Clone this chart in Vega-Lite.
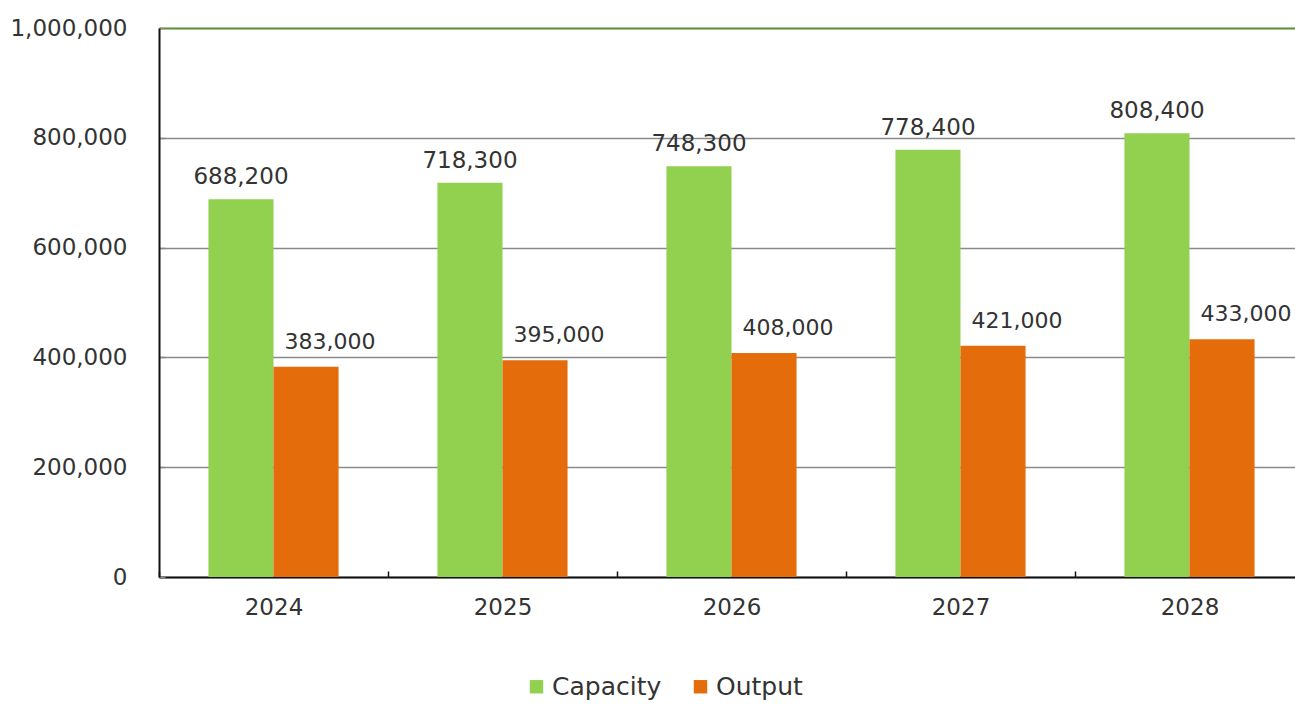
{
  "$schema": "https://vega.github.io/schema/vega-lite/v6.json",
  "autosize": {"type": "none"},
  "width": 1136,
  "height": 549,
  "padding": {"left": 159, "top": 28, "right": 0, "bottom": 127},
  "background": "white",
  "view": {"stroke": "transparent", "strokeWidth": 0, "fill": null},
  "config": {
    "view": {"stroke": "transparent", "strokeWidth": 0},
    "font": "DejaVu Sans"
  },
  "data": {
    "values": [
      {"year": "2024", "series": "Capacity", "value": 688200},
      {"year": "2024", "series": "Output", "value": 383000},
      {"year": "2025", "series": "Capacity", "value": 718300},
      {"year": "2025", "series": "Output", "value": 395000},
      {"year": "2026", "series": "Capacity", "value": 748300},
      {"year": "2026", "series": "Output", "value": 408000},
      {"year": "2027", "series": "Capacity", "value": 778400},
      {"year": "2027", "series": "Output", "value": 421000},
      {"year": "2028", "series": "Capacity", "value": 808400},
      {"year": "2028", "series": "Output", "value": 433000}
    ]
  },
  "encoding": {
    "x": {
      "field": "year", "type": "nominal", "title": null,
      "scale": {"range": [0, 1145], "paddingInner": 0, "paddingOuter": 0},
      "axis": {
        "labelAngle": 0, "labelFont": "DejaVu Sans", "labelFontSize": 23, "labelColor": "#333",
        "domainColor": "#111", "domainWidth": 2,
        "tickBand": "extent", "tickSize": -6, "tickColor": "#111", "tickWidth": 1.5,
        "labelPadding": 25
      }
    },
    "xOffset": {
      "field": "series", "type": "nominal",
      "scale": {"paddingInner": 0, "paddingOuter": 0.76}
    },
    "y": {
      "field": "value", "type": "quantitative", "title": null,
      "scale": {"domain": [0, 1000000], "nice": false},
      "axis": {
        "values": [0, 200000, 400000, 600000, 800000, 1000000],
        "format": ",d",
        "labelFont": "DejaVu Sans", "labelFontSize": 23, "labelColor": "#333",
        "domainColor": "#111", "domainWidth": 2,
        "tickSize": -6, "tickColor": "#8a8a8a", "tickWidth": 1.5,
        "labelPadding": 38,
        "grid": true,
        "gridColor": {"condition": {"test": "datum.value === 1000000", "value": "#5a8a3a"}, "value": "#8a8a8a"},
        "gridWidth": {"condition": {"test": "datum.value === 1000000", "value": 2}, "value": 1.5}
      }
    }
  },
  "layer": [
    {
      "mark": {"type": "bar"},
      "encoding": {
        "color": {
          "field": "series", "type": "nominal",
          "scale": {"domain": ["Capacity", "Output"], "range": ["#92D050", "#E46C0A"]},
          "legend": {
            "title": null, "orient": "none", "direction": "horizontal",
            "legendX": 365, "legendY": 646,
            "symbolType": "square", "symbolSize": 180, "symbolStrokeWidth": 0,
            "labelFont": "DejaVu Sans", "labelFontSize": 25, "labelColor": "#333",
            "labelOffset": 3, "columnPadding": 26
          }
        }
      }
    },
    {
      "transform": [{"filter": "datum.series === 'Capacity'"}],
      "mark": {"type": "text", "baseline": "bottom", "dy": -10, "fontSize": 23, "font": "DejaVu Sans", "color": "#333"},
      "encoding": {"text": {"field": "value", "type": "quantitative", "format": ",d"}}
    },
    {
      "transform": [{"filter": "datum.series === 'Output'"}],
      "mark": {"type": "text", "baseline": "bottom", "dy": -13, "dx": 24, "fontSize": 22, "font": "DejaVu Sans", "color": "#333"},
      "encoding": {"text": {"field": "value", "type": "quantitative", "format": ",d"}}
    }
  ]
}
